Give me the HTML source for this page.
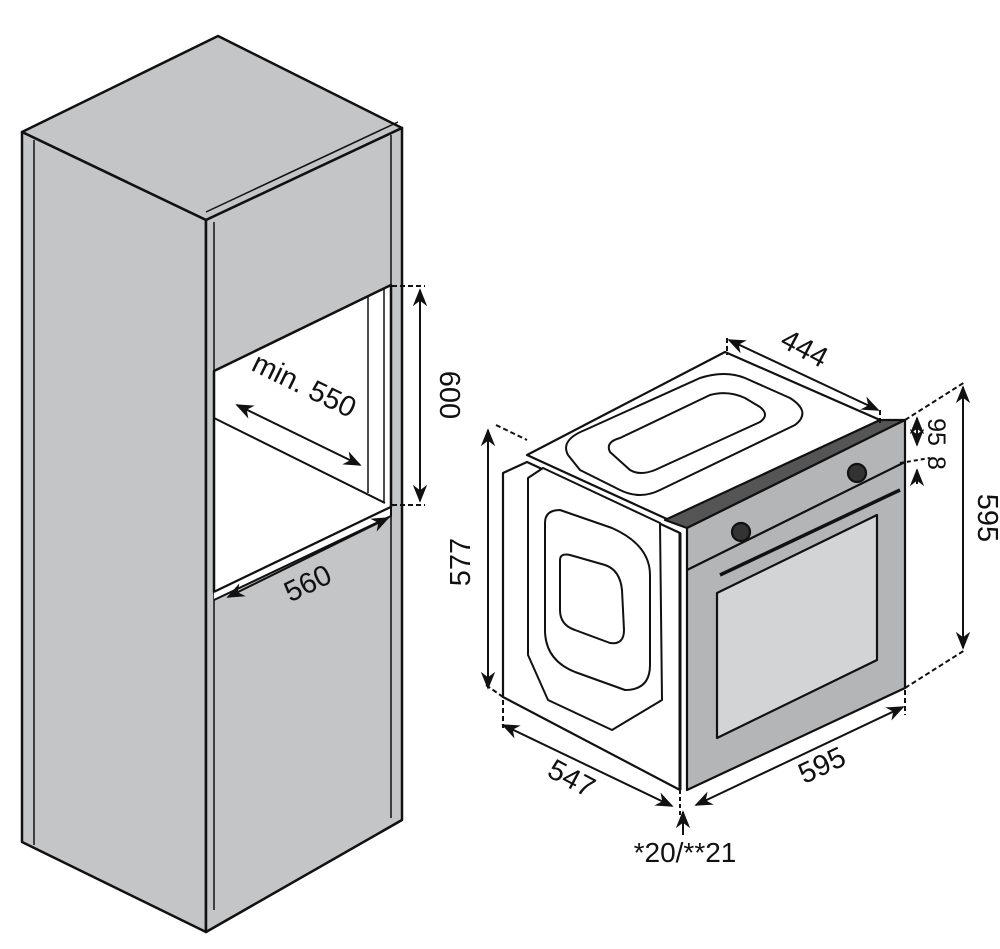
<!DOCTYPE html>
<html><head><style>body{margin:0;background:#fff}svg{display:block}text{font-family:"Liberation Sans",sans-serif;fill:#111}</style></head><body>
<svg width="1000" height="949" viewBox="0 0 1000 949" xmlns="http://www.w3.org/2000/svg">
<defs><marker id="a" viewBox="0 0 10 10" refX="9" refY="5" markerWidth="9" markerHeight="9" orient="auto-start-reverse"><path d="M0,1 L10,5 L0,9 L3,5z" fill="#111"/></marker></defs>
<g stroke="#111" stroke-width="2.5" stroke-linejoin="round" fill="#c3c5c7">
<polygon points="22,132 218,36 402,128 206,220"/>
<polygon points="22,132 206,220 206,932 22,842"/>
<polygon points="206,220 402,128 402,820 206,932"/>
<line x1="34" y1="140" x2="34" y2="845" stroke-width="1.5"/>
<line x1="214" y1="222" x2="214" y2="910" stroke-width="1.5"/>
<line x1="391" y1="135" x2="391" y2="818" stroke-width="1.5"/>
<line x1="206" y1="212" x2="398" y2="122" stroke-width="1.5"/>
<polygon points="214,371 391,285 391,507 214,592" fill="#fff"/>
<line x1="214" y1="418" x2="385" y2="503" stroke-width="2"/>
<line x1="368" y1="297" x2="368" y2="493" stroke-width="1.5"/>
<line x1="384" y1="288" x2="384" y2="503" stroke-width="1.5"/>
<polyline points="214,592 391,507 391,516 214,600" fill="#fff" stroke-width="2"/>
</g>
<g stroke="#111" stroke-width="2" fill="none">
<line x1="392" y1="286" x2="425" y2="286" stroke-dasharray="5,3"/>
<line x1="392" y1="505" x2="425" y2="505" stroke-dasharray="5,3"/>
<line x1="420" y1="290" x2="420" y2="501" marker-start="url(#a)" marker-end="url(#a)"/>
<line x1="237" y1="405" x2="360" y2="465" marker-start="url(#a)" marker-end="url(#a)"/>
<line x1="228" y1="597" x2="388" y2="518" marker-start="url(#a)" marker-end="url(#a)"/>
</g>
<text x="440" y="395" font-size="29" transform="rotate(90 440 395)" text-anchor="middle">600</text>
<text x="300" y="394" font-size="29" transform="rotate(26 300 394)" text-anchor="middle">min. 550</text>
<text x="312" y="592" font-size="29" transform="rotate(-26 312 592)" text-anchor="middle">560</text>

<g stroke="#111" stroke-width="2.2" stroke-linejoin="round" fill="#fff">
<polygon points="527,455 725,352 880,420 680,525"/>
<polygon points="503,473 527,462 680,533 680,790 503,697"/>
<polygon points="528,478 543,468 660,523 662,700 612,730 548,700 528,655" stroke-width="2"/>
<path d="M545,523 Q545,510 560,510 L612,528 Q650,545 650,575 L650,665 Q650,690 625,690 L575,672 Q545,660 545,630Z" stroke-width="2"/>
<path d="M560,560 Q560,553 570,555 L605,565 Q620,570 622,590 L624,630 Q624,645 610,643 L575,630 Q560,625 560,610Z" stroke-width="2"/>
<path d="M568,455 Q560,440 585,430 L700,378 Q725,370 745,378 L790,398 Q812,412 795,425 L660,490 Q640,500 620,490 L580,470Z" stroke-width="2"/>
<path d="M610,452 Q605,442 620,438 L710,395 Q728,390 745,398 L760,407 Q770,415 760,422 L655,470 Q640,476 630,470Z" stroke-width="2"/>
<polygon points="665,520 880,420 905,420 687,528" fill="#555"/>
<polygon points="687,528 905,420 905,688 687,790" fill="#b4b5b7"/>
<line x1="687" y1="570" x2="905" y2="462"/>
<polygon points="717,593 877,515 877,660 717,738" fill="#d3d4d5"/>
<line x1="720" y1="575" x2="900" y2="490" stroke-width="3.5"/>
<circle cx="741" cy="532" r="9" fill="#333"/>
<circle cx="857" cy="473" r="9" fill="#333"/>
<line x1="680" y1="533" x2="680" y2="790" stroke-width="3"/>
</g>
<g stroke="#111" stroke-width="2" fill="none">
<line x1="496" y1="425" x2="527" y2="440" stroke-dasharray="5,3"/>
<line x1="486" y1="685" x2="503" y2="697" stroke-dasharray="5,3"/>
<line x1="488" y1="430" x2="488" y2="688" marker-start="url(#a)" marker-end="url(#a)"/>
<line x1="503" y1="700" x2="503" y2="728" stroke-dasharray="5,3"/>
<line x1="503" y1="725" x2="672" y2="806" marker-start="url(#a)" marker-end="url(#a)"/>
<line x1="696" y1="805" x2="903" y2="707" marker-start="url(#a)" marker-end="url(#a)"/>
<line x1="905" y1="690" x2="905" y2="715" stroke-dasharray="5,3"/>
<line x1="727" y1="338" x2="727" y2="355" stroke-dasharray="5,3"/>
<line x1="880" y1="410" x2="880" y2="425" stroke-dasharray="5,3"/>
<line x1="729" y1="340" x2="878" y2="410" marker-start="url(#a)" marker-end="url(#a)"/>
<line x1="905" y1="420" x2="965" y2="382" stroke-dasharray="5,3"/>
<line x1="905" y1="688" x2="965" y2="650" stroke-dasharray="5,3"/>
<line x1="963" y1="387" x2="963" y2="648" marker-start="url(#a)" marker-end="url(#a)"/>
<line x1="917" y1="418" x2="917" y2="445" marker-start="url(#a)" marker-end="url(#a)"/>
<line x1="917" y1="470" x2="917" y2="484" marker-start="url(#a)"/>
<line x1="900" y1="463" x2="930" y2="458" stroke-dasharray="4,3"/>
<line x1="680" y1="790" x2="680" y2="815" stroke-dasharray="4,3"/>
<line x1="683" y1="835" x2="683" y2="812" marker-end="url(#a)"/>
</g>
<text x="470" y="562" font-size="29" transform="rotate(-90 470 562)" text-anchor="middle">577</text>
<text x="567" y="787" font-size="29" transform="rotate(28 567 787)" text-anchor="middle">547</text>
<text x="826" y="774" font-size="29" transform="rotate(-25 826 774)" text-anchor="middle">595</text>
<text x="800" y="357" font-size="29" transform="rotate(28 800 357)" text-anchor="middle">444</text>
<text x="978" y="518" font-size="29" transform="rotate(90 978 518)" text-anchor="middle">595</text>
<text x="928" y="432" font-size="25" transform="rotate(90 928 432)" text-anchor="middle">95</text>
<text x="928" y="463" font-size="25" transform="rotate(90 928 463)" text-anchor="middle">8</text>
<text x="685" y="862" font-size="28" text-anchor="middle">*20/**21</text>
</svg>
</body></html>
